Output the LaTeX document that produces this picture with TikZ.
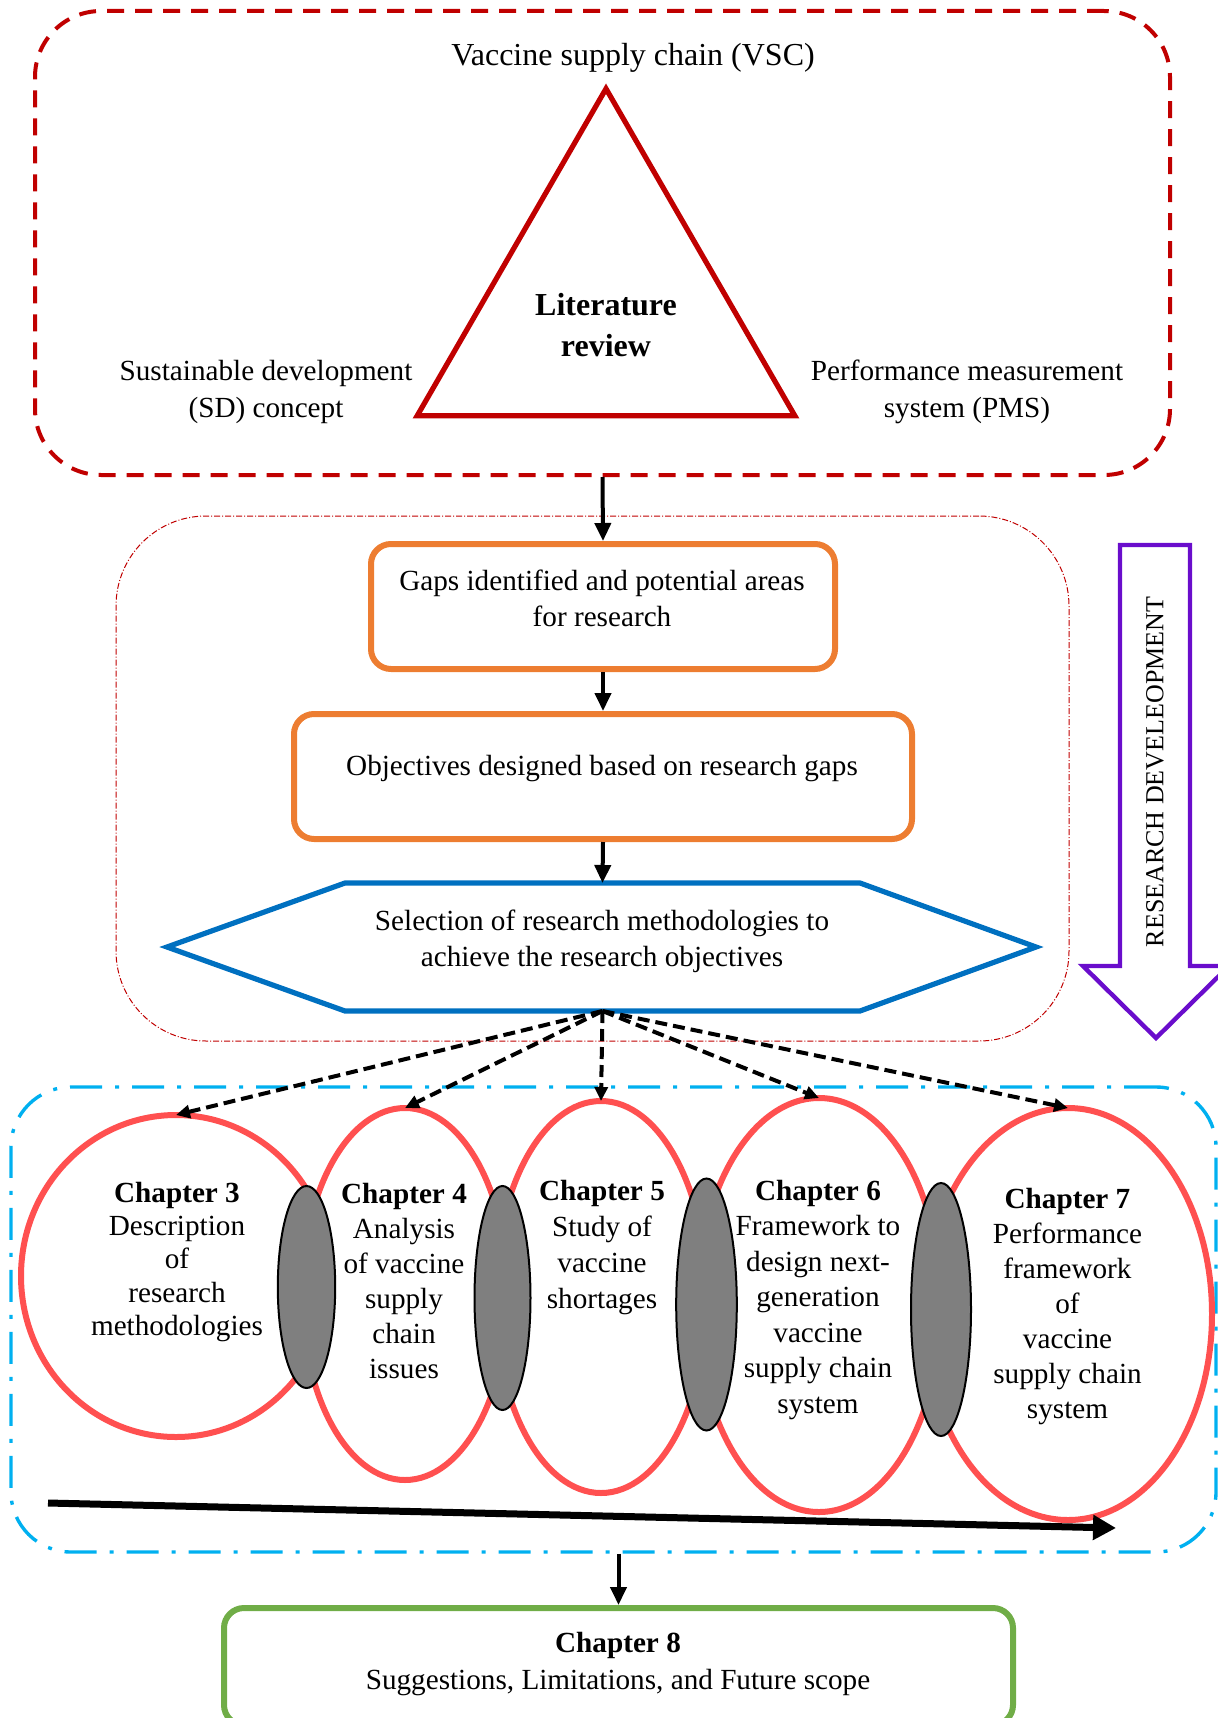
\documentclass[tikz,border=0pt]{standalone}
\usepackage{fontspec}
\setmainfont{Liberation Serif}
\usetikzlibrary{arrows.meta,shapes.geometric,calc}

\definecolor{litred}{HTML}{C00000}
\definecolor{boxorange}{HTML}{ED7D31}
\definecolor{selblue}{HTML}{0070C0}
\definecolor{devpurple}{HTML}{6A0DCC}
\definecolor{chapred}{HTML}{FF5050}
\definecolor{frameblue}{HTML}{00B0F0}
\definecolor{closegreen}{HTML}{70AD47}
\definecolor{linkgray}{HTML}{7F7F7F}

\newcommand{\bodyfont}{\fontsize{14.6}{17.5}\selectfont}

\begin{document}
\begin{tikzpicture}[x=0.5pt,y=-0.5pt,
  txt/.style={align=center, font=\bodyfont, inner sep=0pt},
  flow/.style={line width=2pt, -{Triangle[length=9pt,width=8pt]}},
  fan/.style={line width=2pt, dash pattern=on 6pt off 3pt, -{Triangle[length=7pt,width=6.5pt]}},
  chap/.style={ellipse, draw=chapred, line width=3pt, inner sep=0pt, outer sep=0pt},
  link/.style={ellipse, draw=black, fill=linkgray, line width=1pt, inner sep=0pt, outer sep=0pt},
  stepbox/.style={draw=boxorange, line width=3pt, rounded corners=10pt, inner sep=0pt}
]
\useasboundingbox (0,0) rectangle (1217,1718);

% ---------- literature review block ----------
\node[draw=litred, line width=2pt, dash pattern=on 8.5pt off 5.5pt,
      rounded corners=33pt, minimum width=567.5pt, minimum height=232pt,
      inner sep=0pt] (review) at (602.5,243) {};
\node[regular polygon, regular polygon sides=3, draw=litred, line width=2.6pt,
      minimum size=218pt, inner sep=0pt] (tri) at (606,306.7) {};
\node[font=\fontsize{16}{19}\selectfont, inner sep=0pt] (vsc) at (633,58) {Vaccine supply chain (VSC)};
\node[txt, font=\fontsize{16}{20.5}\selectfont\bfseries] (lit) at (606,325) {Literature\\review};
\node[txt, font=\fontsize{14.6}{18.5}\selectfont] (sd) at (266,392) {Sustainable development\\(SD) concept};
\node[txt, font=\fontsize{14.6}{18.5}\selectfont] (pms) at (967,391.5) {Performance measurement\\system (PMS)};

% ---------- research design block ----------
\node[draw=litred, line width=0.5pt, dash pattern=on 3pt off 1pt on 0.5pt off 1pt,
      rounded corners=45pt, minimum width=476.5pt, minimum height=262.5pt,
      inner sep=0pt] (design) at (592.5,778.5) {};

\node[stepbox, minimum width=232pt, minimum height=62.5pt] (gaps) at (603,606.5) {};
\node[txt, font=\fontsize{14.6}{18}\selectfont] (gapstxt) at (602,598) {Gaps identified and potential areas\\for research};

\node[stepbox, minimum width=309pt, minimum height=62.5pt] (obj) at (603,776.5) {};
\node[txt] (objtxt) at (602,769) {Objectives designed based on research gaps};

\node[inner sep=0pt, outer sep=0pt, minimum width=257.5pt, minimum height=64pt] (sel) at (602.5,947) {};
\draw[selblue, line width=2.6pt, line join=miter]
  (sel.north west) -- (sel.north east) -- ($(sel.east)+(176,0)$) --
  (sel.south east) -- (sel.south west) -- ($(sel.west)+(-178,0)$) -- cycle;
\node[txt, font=\fontsize{14.6}{18}\selectfont] (seltxt) at (602,941) {Selection of research methodologies to\\achieve the research objectives};

\draw[flow] (review.south) -- (gaps.north);
\draw[flow] (gaps.south) -- (obj.north);
\draw[flow] (obj.south) -- (sel.north);

% ---------- research development arrow ----------
\draw[devpurple, line width=2.2pt, line join=miter]
  (1120,545) -- (1190,545) -- (1190,966) -- (1229,966) -- (1156,1038) --
  (1083,966) -- (1120,966) -- cycle;
\node[rotate=90, font=\fontsize{13}{15}\selectfont, inner sep=0pt] (rd) at (1155,772) {RESEARCH DEVELEOPMENT};

% ---------- chapters block ----------
\node[draw=frameblue, line width=1.7pt, dash pattern=on 16pt off 6.5pt on 2pt off 6.5pt,
      rounded corners=30pt, minimum width=602.5pt, minimum height=232.5pt,
      inner sep=0pt] (chapters) at (613.5,1319.5) {};

\node[chap, minimum width=155pt, minimum height=161pt] (c3) at (176,1276) {};
\node[chap, minimum width=103pt, minimum height=186pt] (c4) at (405,1294) {};
\node[chap, minimum width=106pt, minimum height=196pt] (c5) at (601,1297) {};
\node[chap, minimum width=122pt, minimum height=207pt] (c6) at (819,1305) {};
\node[chap, minimum width=144pt, minimum height=206pt] (c7) at (1068,1314) {};

\node[link, minimum width=28.7pt, minimum height=101pt] (g1) at (306.5,1287) {};
\node[link, minimum width=28pt, minimum height=112pt] (g2) at (502.5,1298) {};
\node[link, minimum width=30.3pt, minimum height=126pt] (g3) at (706.5,1304.5) {};
\node[link, minimum width=30pt, minimum height=126.5pt] (g4) at (941,1309.5) {};

\node[txt, font=\fontsize{14.6}{16.6}\selectfont] (t3) at (177,1262)
  {\textbf{Chapter 3}\\Description\\of\\research\\methodologies};
\node[txt] (t4) at (404,1281)
  {\textbf{Chapter 4}\\Analysis\\of vaccine\\supply\\chain\\issues};
\node[txt, font=\fontsize{14.6}{18}\selectfont] (t5) at (602,1248)
  {\textbf{Chapter 5}\\Study of\\vaccine\\shortages};
\node[txt, font=\fontsize{14.6}{17.75}\selectfont] (t6) at (818,1300)
  {\textbf{Chapter 6}\\Framework to\\design next-\\generation\\vaccine\\supply chain\\system};
\node[txt, font=\fontsize{14.6}{17.5}\selectfont] (t7) at (1067.5,1307)
  {\textbf{Chapter 7}\\Performance\\framework\\of\\vaccine\\supply chain\\system};

\foreach \c in {c3,c4,c5,c6,c7}
  \draw[fan] (sel.south) -- (\c.north);

\coordinate (flowL) at (48,1503);
\coordinate (flowR) at (1116,1528);
\draw[line width=3.5pt, -{Triangle[length=11.5pt,width=12pt]}] (flowL) -- (flowR);

% ---------- closing chapter ----------
\node[draw=closegreen, line width=3pt, rounded corners=10pt, minimum width=394.5pt,
      minimum height=58.5pt, inner sep=0pt] (ch8) at (618.5,1666.5) {};
\node[txt, font=\fontsize{14.6}{18.5}\selectfont] (ch8txt) at (618,1664)
  {\textbf{Chapter 8}\\Suggestions, Limitations, and Future scope};
\draw[flow] (ch8.north |- chapters.south) -- (ch8.north);

\end{tikzpicture}
\end{document}
